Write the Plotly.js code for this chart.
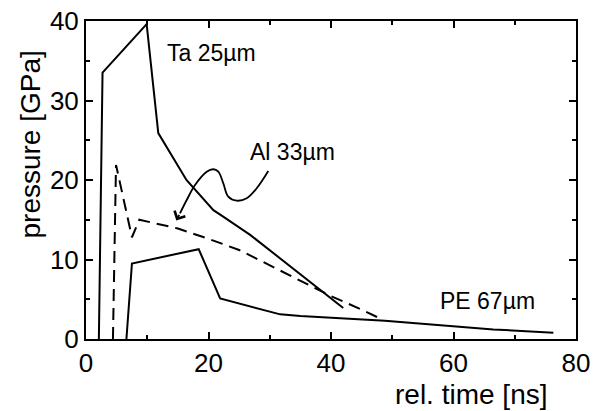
<!DOCTYPE html>
<html>
<head>
<meta charset="utf-8">
<script src="https://cdn.plot.ly/plotly-3.0.1.min.js"></script>
<style>html,body{margin:0;padding:0;background:#fff;}#chart{width:593px;height:411px;}</style>
</head>
<body>
<div id="chart"></div>
<script>
// Ta 25 µm (solid)
const taTime = [2.1, 2.7, 9.9, 11.8, 16.4, 20.8, 22.4, 26.8, 42.0];
const taPressure = [0, 33.5, 39.6, 25.9, 20.0, 16.2, 15.4, 13.1, 3.9];
// Al 33 µm (dashed)
const alTime = [4.4, 4.9, 7.5, 8.7, 15, 20, 25, 30, 35, 40, 45, 48.5];
const alPressure = [0, 21.9, 12.8, 15.0, 13.9, 12.6, 11.2, 9.3, 7.3, 5.4, 3.7, 2.4];
// PE 67 µm (solid)
const peTime = [6.6, 7.5, 18.4, 21.9, 31.7, 35, 48.8, 66.5, 76.3];
const pePressure = [0, 9.5, 11.3, 5.1, 3.1, 2.9, 2.3, 1.2, 0.8];
// hand-drawn callout curve for the Al label
const calloutX = [29.76, 27.87, 26.24, 24.60, 23.23, 22.42, 21.60, 20.78, 19.71, 17.80, 16.44, 15.35];
const calloutY = [21.13, 18.96, 17.70, 17.40, 17.90, 19.58, 21.04, 21.35, 21.04, 19.37, 17.48, 15.81];
const calloutTip = [14.74, 14.91];

const xTicks = [0, 20, 40, 60, 80];
const yTicks = [0, 10, 20, 30, 40];

const FONT = 'Liberation Sans, Arial, Helvetica, sans-serif';

const traces = [
  {x: taTime, y: taPressure, mode: 'lines', line: {color: '#000', width: 2}, hoverinfo: 'skip'},
  {x: alTime, y: alPressure, mode: 'lines', line: {color: '#000', width: 2, dash: '12px,7px'}, hoverinfo: 'skip'},
  {x: peTime, y: pePressure, mode: 'lines', line: {color: '#000', width: 2}, hoverinfo: 'skip'},
  {x: calloutX, y: calloutY, mode: 'lines', line: {color: '#000', width: 1.8, shape: 'spline'}, hoverinfo: 'skip'}
];

const axisCommon = {
  showline: true, linecolor: '#000', linewidth: 2, mirror: 'ticks',
  ticks: 'inside', ticklen: 7, tickwidth: 2, tickcolor: '#000',
  showgrid: false, zeroline: false,
  tickfont: {family: FONT, size: 26, color: '#000'},
  tickmode: 'array'
};

const layout = {
  width: 593, height: 411,
  margin: {l: 86, r: 17, t: 21, b: 72},
  paper_bgcolor: '#fff', plot_bgcolor: '#fff',
  showlegend: false,
  font: {family: FONT, color: '#000'},
  xaxis: Object.assign({}, axisCommon, {
    range: [0, 80], tickvals: xTicks, ticktext: xTicks.map(String),
    minor: {tickvals: [10, 30, 50, 70], ticks: 'inside', ticklen: 4, tickwidth: 2, tickcolor: '#000', showgrid: false}
  }),
  yaxis: Object.assign({}, axisCommon, {
    range: [0, 40], tickvals: yTicks, ticktext: yTicks.map(String),
    minor: {tickvals: [5, 15, 25, 35], ticks: 'inside', ticklen: 4, tickwidth: 2, tickcolor: '#000', showgrid: false}
  }),
  annotations: [
    {x: 12.9, y: 36.0, xref: 'x', yref: 'y', text: 'Ta 25µm', showarrow: false,
     xanchor: 'left', yanchor: 'middle', font: {family: FONT, size: 23, color: '#000'}},
    {x: 26.4, y: 23.5, xref: 'x', yref: 'y', text: 'Al 33µm', showarrow: false,
     xanchor: 'left', yanchor: 'middle', font: {family: FONT, size: 23, color: '#000'}},
    {x: 57.5, y: 4.8, xref: 'x', yref: 'y', text: 'PE 67µm', showarrow: false,
     xanchor: 'left', yanchor: 'middle', font: {family: FONT, size: 23, color: '#000'}},
    {x: calloutTip[0], y: calloutTip[1], xref: 'x', yref: 'y',
     ax: calloutX[calloutX.length - 1], ay: calloutY[calloutY.length - 1], axref: 'x', ayref: 'y',
     text: '', showarrow: true, arrowhead: 4, arrowsize: 1.3, arrowwidth: 1.8, arrowcolor: '#000'},
    {x: -56 / 490, y: (339 - 144.5) / 318, xref: 'paper', yref: 'paper', text: 'pressure [GPa]',
     textangle: -90, showarrow: false, xanchor: 'center', yanchor: 'middle',
     font: {family: FONT, size: 28, color: '#000'}},
    {x: 62.9, y: -0.176, xref: 'x', yref: 'paper', text: 'rel. time [ns]', showarrow: false,
     xanchor: 'center', yanchor: 'middle', font: {family: FONT, size: 28, color: '#000'}}
  ]
};

Plotly.newPlot('chart', traces, layout, {staticPlot: true, displayModeBar: false});
</script>
</body>
</html>
